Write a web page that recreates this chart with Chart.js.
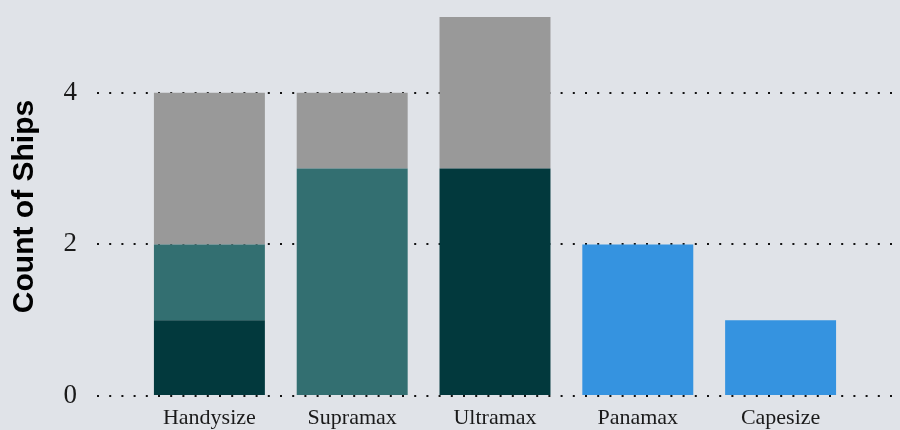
<!DOCTYPE html>
<html>
<head>
<meta charset="utf-8">
<script src="https://cdn.jsdelivr.net/npm/chart.js@4.4.0/dist/chart.umd.min.js"></script>
<style>
  html, body { margin: 0; padding: 0; background: #e0e3e8; }
  #wrap { width: 900px; height: 430px; }
</style>
</head>
<body>
<div id="wrap"><canvas id="shipChart" width="900" height="430"></canvas></div>
<script>
// ship classes along the x axis
const categories = ["Handysize", "Supramax", "Ultramax", "Panamax", "Capesize"];
// stacked counts per segment
const darkTeal = [1, 0, 3, 0, 0];
const midTeal = [1, 3, 0, 0, 0];
const grey = [2, 1, 2, 0, 0];
const blue = [0, 0, 0, 2, 1];
const yTicks = [0, 2, 4];

const dots = [2, 10.2];
const gridDots = {
  color: "#111",
  lineWidth: 2,
  tickBorderDash: dots,
  tickColor: "#111"
};

// drop the label overhang padding so the plot fills the height
const noPad = (s) => { s.paddingTop = 0; s.paddingBottom = 0; };

const ctx = document.getElementById("shipChart").getContext("2d");
const chart = new Chart(ctx, {
  type: "bar",
  data: {
    labels: categories,
    datasets: [
      { label: "Group 1", data: darkTeal, backgroundColor: "#02393d" },
      { label: "Group 2", data: midTeal, backgroundColor: "#336f71" },
      { label: "Group 3", data: grey, backgroundColor: "#999999" },
      { label: "Group 4", data: blue, backgroundColor: "#3593e0" }
    ]
  },
  options: {
    responsive: false,
    animation: false,
    layout: { padding: { top: 17, left: 0, right: 0, bottom: 0 } },
    datasets: {
      bar: { categoryPercentage: 1, barPercentage: 0.777, borderWidth: 0 }
    },
    plugins: {
      legend: { display: false },
      tooltip: { enabled: false }
    },
    scales: {
      x: {
        stacked: true,
        grid: { display: false, drawTicks: false },
        border: { display: false },
        ticks: {
          color: "#1a1a1a",
          padding: 9,
          font: { family: "'Liberation Serif', 'Times New Roman', serif", size: 22 }
        },
        afterFit: (s) => { s.height = 34; s.paddingLeft = 0; s.paddingRight = 0; }
      },
      y: {
        stacked: true,
        min: 0,
        max: 5,
        afterBuildTicks: (s) => { s.ticks = yTicks.map(v => ({ value: v })); },
        ticks: {
          color: "#1a1a1a",
          padding: 20,
          font: { family: "'Liberation Serif', 'Times New Roman', serif", size: 27 }
        },
        grid: Object.assign({ tickLength: 41 }, gridDots),
        // offset keeps the dot rhythm continuous from the tick into the plot
        border: { display: false, dash: dots, dashOffset: 4.4 },
        title: {
          display: true,
          text: "Count of Ships",
          color: "#000",
          padding: { top: 7, bottom: 0 },
          font: { family: "'Liberation Sans', Arial, sans-serif", size: 30, weight: "bold" }
        },
        afterFit: (s) => { s.width = 138; noPad(s); }
      },
      yRight: {
        position: "right",
        min: 0,
        max: 5,
        afterBuildTicks: (s) => { s.ticks = yTicks.map(v => ({ value: v })); },
        ticks: { display: false },
        grid: Object.assign({ tickLength: 48, drawOnChartArea: false, tickBorderDashOffset: 10.8 }, gridDots),
        border: { display: false, dash: dots },
        afterFit: (s) => { s.width = 48; noPad(s); }
      }
    }
  }
});
</script>
</body>
</html>
